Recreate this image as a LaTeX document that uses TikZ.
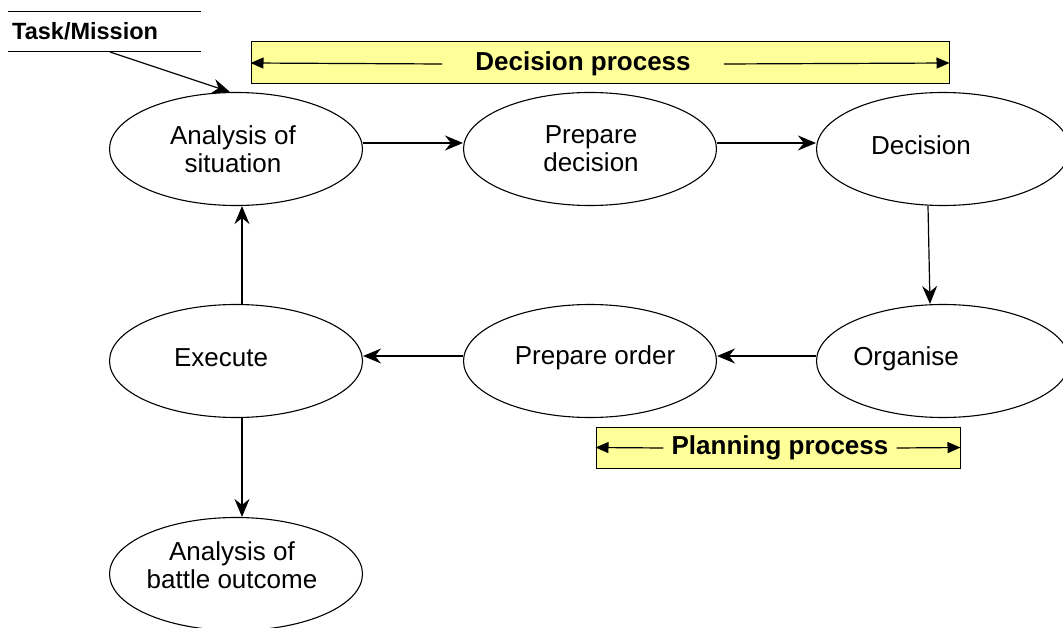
\documentclass[tikz,border=0pt]{standalone}
\usepackage{fontspec}
\setmainfont{Liberation Sans}
\usetikzlibrary{shapes.geometric,arrows.meta}
\definecolor{baryellow}{HTML}{FFFF99}
\begin{document}
\begin{tikzpicture}[x=1pt,y=-1pt,
  proc/.style={ellipse, draw, line width=1.1pt, minimum width=253pt, minimum height=113pt, inner sep=0pt},
  lab/.style={align=center, font=\fontsize{26}{28}\selectfont, inner sep=0pt},
  arr/.style={line width=1.2pt, -{Stealth[length=18pt,width=15pt,inset=6pt]}},
  bar/.style={draw, fill=baryellow, line width=1pt, inner sep=0pt},
  bartext/.style={font=\bfseries\fontsize{26}{28}\selectfont, inner ysep=0pt},
  barr/.style={line width=1.2pt, -{Triangle[length=13pt,width=11pt]}}
]
\useasboundingbox (0,0) rectangle (1063,628);
\clip (0,0) rectangle (1063,628);
\fill[white] (0,0) rectangle (1063,628);

% Task / Mission
\node[font=\bfseries\fontsize{23.5}{25}\selectfont, anchor=west, inner sep=0pt] (task) at (12,31) {Task/Mission};
\draw[line width=1pt] (8,12) -- (201,12);
\draw[line width=1pt] (8,52) -- (201,52);
\coordinate (tm) at (110,52);

% Bars
\node[bar, minimum width=698pt, minimum height=42pt] (dbar) at (600,63) {};
\node[bartext, inner xsep=33pt] (dtext) at (583,64) {Decision process};
\draw[barr] (dtext.west) -- (dbar.west);
\draw[barr] (dtext.east) -- (dbar.east);

\node[bar, minimum width=364pt, minimum height=41pt] (pbar) at (778,447.5) {};
\node[bartext, inner xsep=8pt] (ptext) at (780,448) {Planning process};
\draw[barr] (ptext.west) -- (pbar.west);
\draw[barr] (ptext.east) -- (pbar.east);

% Ellipses
\node[proc, label={[lab, xshift=-3pt]center:Analysis of\\situation}] (ana) at (236,149) {};
\node[proc, label={[lab, xshift=1pt]center:Prepare\\decision}] (prep) at (590,149) {};
\node[proc, label={[lab, xshift=-22pt, yshift=4pt]center:Decision}] (dec) at (943,149) {};
\node[proc, label={[lab, xshift=-37pt, yshift=2pt]center:Organise}] (org) at (943,361) {};
\node[proc, label={[lab, xshift=5pt, yshift=3pt]center:Prepare order}] (por) at (590,361) {};
\node[proc, label={[lab, xshift=-15pt, yshift=3pt]center:Execute}] (exe) at (236,361) {};
\node[proc, label={[lab, xshift=-4pt, yshift=9pt]center:Analysis of\\battle outcome}] (bat) at (236,574) {};

% Connectors
\draw[arr] (tm) -- (ana.96);
\draw[arr] ([yshift=6pt]ana.east) -- ([yshift=6pt]prep.west);
\draw[arr] ([yshift=6pt]prep.east) -- ([yshift=6pt]dec.west);
\draw[arr] ([xshift=-15pt]dec.south) -- ([xshift=-13pt]org.north);
\draw[arr] ([yshift=5pt]org.west) -- ([yshift=5pt]por.east);
\draw[arr] ([yshift=5pt]por.west) -- ([yshift=5pt]exe.east);
\draw[arr] ([xshift=6pt]exe.north) -- ([xshift=6pt]ana.south);
\draw[arr] ([xshift=6pt]exe.south) -- ([xshift=6pt]bat.north);
\end{tikzpicture}
\end{document}
